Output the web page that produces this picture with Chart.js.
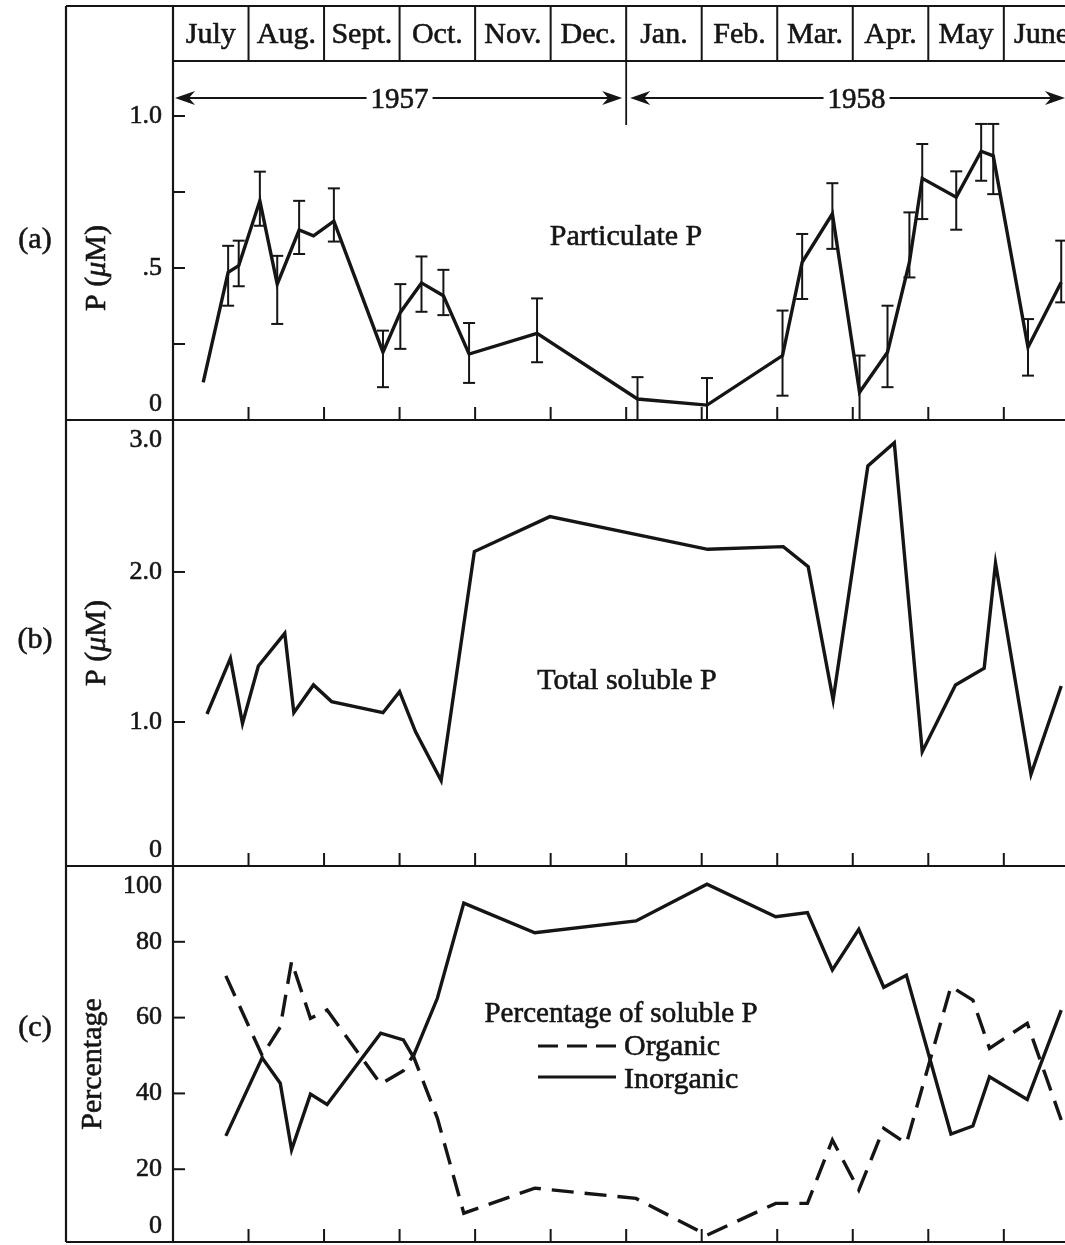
<!DOCTYPE html>
<html>
<head>
<meta charset="utf-8">
<script src="https://cdn.jsdelivr.net/npm/chart.js@4.4.1/dist/chart.umd.min.js"></script>
<style>
  html, body { margin: 0; padding: 0; background: #fff; }
  #wrap { position: relative; width: 1065px; height: 1245px; background: #fff; }
</style>
</head>
<body>
<div id="wrap"><canvas id="phos"></canvas></div>
<script>
// Header row: July 1957 .. June 1958, x axis runs in months from the start of July
const months = ['July', 'Aug.', 'Sept.', 'Oct.', 'Nov.', 'Dec.', 'Jan.', 'Feb.', 'Mar.', 'Apr.', 'May', 'June'];
const years = ['1957', '1958'];
const X_MAX = 11.81;

// (a) Particulate P (uM), with the ends of each error bar (null = no bar)
const partX  = [0.40, 0.73, 0.87, 1.15, 1.38, 1.67, 1.86, 2.13, 2.78, 3.01, 3.29, 3.58, 3.92, 4.82,
                6.15, 7.07, 8.07, 8.33, 8.73, 9.09, 9.46, 9.75, 9.92, 10.37, 10.70, 10.86, 11.32, 11.76];
const partP  = [0.124, 0.486, 0.508, 0.721, 0.447, 0.625, 0.606, 0.654, 0.223, 0.354, 0.451, 0.409, 0.217, 0.285,
                0.069, 0.049, 0.212, 0.519, 0.678, 0.091, 0.223, 0.519, 0.795, 0.733, 0.884, 0.869, 0.239, 0.453];
const partLo = [null, 0.376, 0.440, 0.639, 0.316, 0.546, null, 0.587, 0.108, 0.234, 0.356, 0.345, 0.122, 0.190,
                0, 0, 0.080, 0.398, 0.563, 0, 0.108, 0.469, 0.661, 0.626, 0.787, 0.743, 0.146, 0.387];
const partHi = [null, 0.573, 0.590, 0.817, 0.540, 0.721, null, 0.762, 0.294, 0.447, 0.538, 0.494, 0.319, 0.400,
                0.141, 0.138, 0.360, 0.612, 0.779, 0.212, 0.376, 0.683, 0.908, 0.818, 0.974, 0.974, 0.332, 0.590];

// (b) Total soluble P (uM)
const solX = [0.45, 0.76, 0.92, 1.13, 1.48, 1.60, 1.86, 2.10, 2.78, 3.00, 3.21, 3.55, 3.99, 4.99,
              7.08, 8.08, 8.41, 8.74, 9.20, 9.55, 9.92, 10.36, 10.74, 10.89, 11.36, 11.76];
const solP = [1.053, 1.424, 0.991, 1.373, 1.591, 1.062, 1.247, 1.136, 1.062, 1.202, 0.936, 0.609, 2.136, 2.369,
              2.151, 2.169, 2.036, 1.147, 2.707, 2.862, 0.802, 1.247, 1.358, 2.058, 0.651, 1.240];

// (c) Percentage of soluble P
const pctX      = [0.70, 1.18, 1.42, 1.57, 1.82, 2.04, 2.75, 3.05, 3.18, 3.50, 3.85, 4.79,
                   6.13, 7.07, 7.98, 8.40, 8.73, 9.08, 9.41, 9.71, 10.30, 10.59, 10.81, 11.31, 11.76];
const organic   = [71.0, 50.0, 57.5, 74.8, 59.8, 62.0, 42.5, 46.0, 50.0, 33.5, 8.4, 15.0,
                   12.3, 2.6, 11.0, 11.0, 27.7, 14.5, 30.8, 26.8, 68.2, 64.6, 51.9, 58.5, 33.0];
const inorganic = [28.8, 49.4, 42.7, 25.1, 39.8, 37.1, 55.9, 54.1, 49.7, 65.1, 90.2, 82.4,
                   85.5, 95.2, 86.6, 87.7, 72.6, 83.3, 68.0, 71.2, 29.3, 31.4, 44.4, 38.4, 62.0];

// axis ticks and their labels per panel
const aTicks = [0.25, 0.5, 0.75, 1.0];
const aLabels = [[0, '0'], [0.5, '.5'], [1.0, '1.0']];
const bTicks = [1, 2];
const bLabels = [[0, '0'], [1, '1.0'], [2, '2.0'], [3, '3.0']];
const cTicks = [20, 40, 60, 80];
const cLabels = [[0, '0'], [20, '20'], [40, '40'], [60, '60'], [80, '80'], [100, '100']];

const INK = '#151515';
const SERIF = '"Liberation Serif", "DejaVu Serif", serif';
const FRAME_LEFT = 66;
const FRAME_TOP = 6;

const pts = (xs, ys) => xs.map((x, i) => ({ x: x, y: ys[i] }));

function seg(ctx, x1, y1, x2, y2, w) {
  ctx.lineWidth = w || 2;
  ctx.beginPath();
  ctx.moveTo(x1, y1);
  ctx.lineTo(x2, y2);
  ctx.stroke();
}

// printed type is a little heavier than the plain font, so outline it lightly
function ink(ctx, text, x, y) {
  ctx.fillText(text, x, y);
  ctx.lineWidth = 0.6;
  ctx.strokeText(text, x, y);
}

function arrowHead(ctx, x, y, dir) {
  // barbed head, dir = -1 points left, 1 points right
  ctx.beginPath();
  ctx.moveTo(x, y);
  ctx.lineTo(x - dir * 20, y - 7);
  ctx.lineTo(x - dir * 14, y);
  ctx.lineTo(x - dir * 20, y + 7);
  ctx.closePath();
  ctx.fill();
}

function yearArrow(ctx, x1, x2, y, text, cx) {
  ctx.font = '29px ' + SERIF;
  const w = ctx.measureText(text).width;
  seg(ctx, x1 + 6, y, cx - w / 2 - 4, y, 2);
  seg(ctx, cx + w / 2 + 4, y, x2 - 6, y, 2);
  arrowHead(ctx, x1, y, -1);
  arrowHead(ctx, x2, y, 1);
  ctx.textAlign = 'center';
  ctx.textBaseline = 'middle';
  ink(ctx, text, cx, y + 2);
}

function muTitle(ctx, cx, cy) {
  // "P (µM)" with an italic mu, written bottom to top
  const parts = [['P (', 'normal'], ['\u03bc', 'italic'], ['M)', 'normal']];
  ctx.save();
  ctx.translate(cx, cy);
  ctx.rotate(-Math.PI / 2);
  let total = 0;
  parts.forEach(p => { ctx.font = p[1] + ' 30px ' + SERIF; total += ctx.measureText(p[0]).width; });
  let x = -total / 2;
  ctx.textAlign = 'left';
  ctx.textBaseline = 'middle';
  parts.forEach(p => {
    ctx.font = p[1] + ' 30px ' + SERIF;
    ink(ctx, p[0], x, 0);
    x += ctx.measureText(p[0]).width;
  });
  ctx.restore();
}

const figure = {
  id: 'figure',
  beforeDatasetsDraw(chart) {
    const ctx = chart.ctx;
    const xs = chart.scales.x;
    const ya = chart.scales.ya, yb = chart.scales.yb, yc = chart.scales.yc;
    const left = xs.left, right = chart.width;
    const headBottom = chart.chartArea.top;
    ctx.save();
    ctx.strokeStyle = INK;
    ctx.fillStyle = INK;

    // outer frame and panel dividers
    seg(ctx, FRAME_LEFT, FRAME_TOP, right, FRAME_TOP, 2.2);
    seg(ctx, FRAME_LEFT, FRAME_TOP, FRAME_LEFT, yc.bottom, 2.2);
    seg(ctx, left, FRAME_TOP, left, yc.bottom, 2.2);
    [ya.bottom, yb.bottom, yc.bottom].forEach(y => seg(ctx, FRAME_LEFT, y, right, y, 2.2));

    // month header
    seg(ctx, left, headBottom, right, headBottom, 2);
    ctx.font = '30px ' + SERIF;
    ctx.textAlign = 'center';
    ctx.textBaseline = 'middle';
    months.forEach((m, i) => {
      const x0 = xs.getPixelForValue(i);
      if (i > 0) seg(ctx, x0, FRAME_TOP, x0, headBottom, 2);
      ink(ctx, m, xs.getPixelForValue(i + 0.5), (FRAME_TOP + headBottom) / 2 + 2);
    });

    // year span arrows
    const xJan = xs.getPixelForValue(6);
    seg(ctx, xJan, headBottom, xJan, 125, 1.8);
    yearArrow(ctx, left + 2, xJan - 4, 98, years[0], xs.getPixelForValue(3));
    yearArrow(ctx, xJan + 4, right, 98, years[1], xs.getPixelForValue(9.05));

    // month ticks pointing up from each panel floor
    [ya, yb, yc].forEach(s => {
      for (let i = 1; i < 12; i++) {
        const x = xs.getPixelForValue(i);
        seg(ctx, x, s.bottom, x, s.bottom - 13, 2);
      }
    });

    // value ticks pointing in from the axis
    [[ya, aTicks], [yb, bTicks], [yc, cTicks]].forEach(([s, ticks]) => {
      ticks.forEach(v => {
        const y = s.getPixelForValue(v);
        seg(ctx, left, y, left + 12, y, 2);
      });
    });

    // tick labels, kept inside each panel
    ctx.font = '26px ' + SERIF;
    ctx.textAlign = 'right';
    ctx.textBaseline = 'middle';
    [[ya, aLabels], [yb, bLabels], [yc, cLabels]].forEach(([s, labels]) => {
      labels.forEach(([v, t]) => {
        const y = Math.min(Math.max(s.getPixelForValue(v), s.top + 20), s.bottom - 16);
        ink(ctx, t, 162, y);
      });
    });

    // axis titles and panel letters
    muTitle(ctx, 97, (ya.getPixelForValue(0) + ya.getPixelForValue(1)) / 2);
    muTitle(ctx, 97, (yb.top + yb.bottom) / 2);
    ctx.save();
    ctx.translate(93, (yc.top + yc.bottom) / 2 + 10);
    ctx.rotate(-Math.PI / 2);
    ctx.font = '30px ' + SERIF;
    ctx.textAlign = 'center';
    ctx.textBaseline = 'middle';
    ink(ctx, 'Percentage', 0, 0);
    ctx.restore();

    ctx.font = '30px ' + SERIF;
    ctx.textAlign = 'center';
    ctx.textBaseline = 'middle';
    ink(ctx, '(a)', 35, 240);
    ink(ctx, '(b)', 35, 640);
    ink(ctx, '(c)', 35, 1028);

    // series names written in the panels
    ink(ctx, 'Particulate P', 626, 237);
    ink(ctx, 'Total soluble P', 627, 681);
    ctx.font = '29px ' + SERIF;
    ink(ctx, 'Percentage of soluble P', 621, 1014);

    // key for panel (c)
    ctx.font = '30px ' + SERIF;
    ctx.textAlign = 'left';
    ink(ctx, 'Organic', 624, 1047);
    ink(ctx, 'Inorganic', 624, 1080);
    ctx.setLineDash([20, 9]);
    seg(ctx, 538, 1046, 616, 1046, 3);
    ctx.setLineDash([]);
    seg(ctx, 538, 1077, 616, 1077, 3);
    ctx.restore();
  },
  afterDatasetsDraw(chart) {
    // error bars on the particulate series
    const ctx = chart.ctx;
    const xs = chart.scales.x, ya = chart.scales.ya;
    ctx.save();
    ctx.strokeStyle = INK;
    partX.forEach((m, i) => {
      if (partLo[i] === null) return;
      const x = xs.getPixelForValue(m);
      const y1 = ya.getPixelForValue(partLo[i]);
      const y2 = ya.getPixelForValue(partHi[i]);
      seg(ctx, x, y1, x, y2, 2);
      seg(ctx, x - 6, y1, x + 6, y1, 2);
      seg(ctx, x - 6, y2, x + 6, y2, 2);
    });
    ctx.restore();
  }
};

const panelAxis = (weight, min, max) => ({
  type: 'linear',
  position: 'left',
  stack: 'panels',
  stackWeight: weight,
  min: min,
  max: max,
  grid: { display: false },
  border: { display: false },
  ticks: { display: false },
  afterFit(s) { s.width = 173; }
});

const lineStyle = { borderColor: INK, borderWidth: 3.4, pointRadius: 0, tension: 0, fill: false };

new Chart(document.getElementById('phos'), {
  type: 'line',
  data: {
    datasets: [
      Object.assign({ label: 'Particulate P', data: pts(partX, partP), yAxisID: 'ya' }, lineStyle),
      Object.assign({ label: 'Total soluble P', data: pts(solX, solP), yAxisID: 'yb' }, lineStyle),
      Object.assign({ label: 'Organic', data: pts(pctX, organic), yAxisID: 'yc', borderDash: [22, 11] }, lineStyle),
      Object.assign({ label: 'Inorganic', data: pts(pctX, inorganic), yAxisID: 'yc' }, lineStyle)
    ]
  },
  options: {
    responsive: true,
    maintainAspectRatio: false,
    animation: false,
    layout: { padding: { top: 61, right: 0, bottom: 3, left: 0 } },
    plugins: { legend: { display: false }, tooltip: { enabled: false } },
    scales: {
      x: { type: 'linear', min: 0, max: X_MAX, display: false },
      yc: panelAxis(376, 0.8, 100),
      yb: panelAxis(446, 0.04, 3.013),
      ya: panelAxis(359, 0, 1.181)
    }
  },
  plugins: [figure]
});
</script>
</body>
</html>
